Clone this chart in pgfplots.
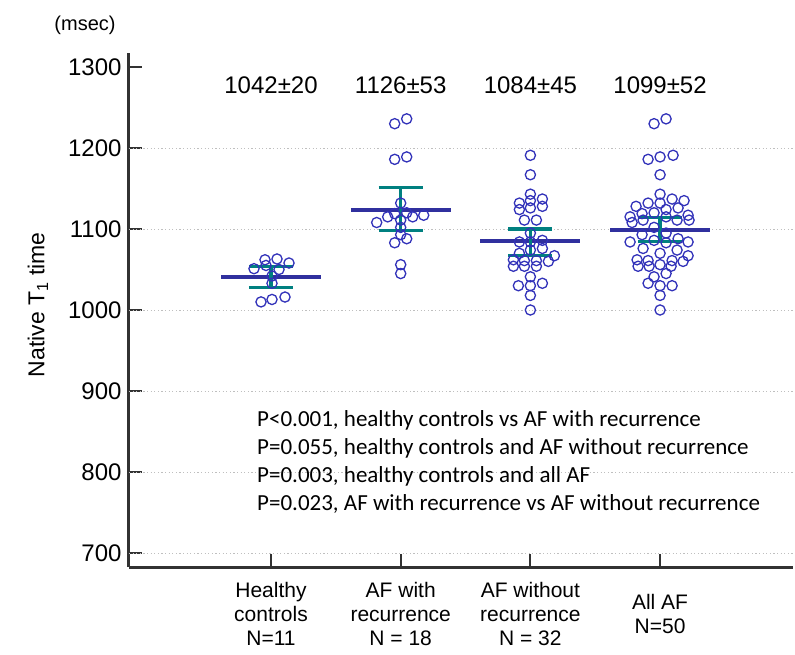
\documentclass[border=0pt]{standalone}
\usepackage{pgfplots}
\pgfplotsset{compat=1.18}
\usepackage{pgfplotstable}
\usepackage{fontspec}
\setmainfont{Liberation Sans}
\newfontfamily\carlito{Carlito}
\definecolor{dotblue}{RGB}{50,50,185}
\definecolor{meanblue}{RGB}{48,48,158}
\definecolor{barteal}{RGB}{0,128,128}
\definecolor{axisgray}{RGB}{50,50,50}

\pgfplotstableread{
g dx y
1 6 1063
1 -6 1062
1 18 1058
1 -17 1051
1 -5 1055
1 8 1050
1 1 1042
1 1 1033
1 14 1016
1 1 1013
1 -10 1010
}\healthy

\pgfplotstableread{
g dx y
2 6 1236
2 -6 1230
2 6 1189
2 -6 1186
2 0 1132
2 6 1120
2 -6 1119
2 23 1117
2 -13 1115
2 12 1115
2 0 1111
2 -24 1108
2 0 1102
2 0 1093
2 6 1088
2 -6 1083
2 0 1056
2 0 1045
}\afwith

\pgfplotstableread{
g dx y
3 0 1191
3 0 1167
3 0 1143
3 12 1137
3 0 1135
3 -11 1132
3 12 1128
3 0 1126
3 -11 1124
3 -6 1111
3 6 1111
3 0 1095
3 12 1086
3 -11 1084
3 0 1084
3 12 1076
3 0 1074
3 -11 1070
3 24 1067
3 -17 1062
3 -6 1061
3 6 1061
3 18 1060
3 -17 1054
3 -6 1054
3 6 1054
3 0 1041
3 12 1033
3 -12 1030
3 0 1030
3 0 1018
3 0 1000
}\afwithout

\pgfplotstableread{
g dx y
4 6 1236
4 -6 1230
4 13 1191
4 0 1189
4 -12 1186
4 0 1167
4 0 1143
4 12 1137
4 24 1135
4 0 1132
4 -12 1132
4 -24 1128
4 18 1126
4 6 1124
4 -6 1120
4 -18 1119
4 28 1117
4 -30 1115
4 6 1115
4 17 1111
4 -17 1111
4 29 1111
4 -28 1108
4 -6 1102
4 6 1095
4 -18 1093
4 18 1088
4 -6 1086
4 28 1084
4 -30 1084
4 6 1083
4 -17 1076
4 17 1074
4 0 1070
4 28 1067
4 -23 1062
4 -12 1061
4 12 1061
4 23 1060
4 0 1056
4 -11 1054
4 11 1054
4 -22 1054
4 6 1045
4 -6 1041
4 -12 1033
4 12 1030
4 0 1030
4 0 1018
4 0 1000
}\allaf

\begin{document}
\begin{tikzpicture}
\begin{axis}[
  at={(129pt,87pt)}, anchor=south west,
  scale only axis, width=664pt, height=514pt,
  xmin=-0.095, xmax=5.025, ymin=682.7, ymax=1317.3,
  axis x line=bottom, axis y line=left,
  axis line style={-, line width=3pt, color=axisgray},
  tick align=inside, major tick length=13pt,
  tick style={line width=2.2pt, color=axisgray},
  xtick={1,2,3,4},
  xticklabels={{Healthy\\controls\\N=11},{AF with\\recurrence\\N = 18},{AF without\\recurrence\\N = 32},{All AF\\N=50}},
  xticklabel style={align=center, anchor=center, yshift=-47pt, font=\fontsize{21}{24}\selectfont},
  ytick={700,800,900,1000,1100,1200,1300},
  yticklabel style={font=\fontsize{24}{28}\selectfont, xshift=-4pt},
  /pgf/number format/assume math mode=true,
  /pgf/number format/1000 sep={},
  extra y ticks={700,800,900,1000,1100,1200},
  extra y tick labels={},
  extra y tick style={grid=major, major tick length=0pt},
  major grid style={color=gray!50, line width=0.9pt, dash pattern=on 1.2pt off 2.4pt},
  clip=false,
]
\addplot[only marks, mark=o, mark size=5.1pt, mark options={line width=1.3pt, draw=dotblue}] table[x expr=\thisrow{g}+\thisrow{dx}/129.7, y=y] {\healthy};
\addplot[only marks, mark=o, mark size=5.1pt, mark options={line width=1.3pt, draw=dotblue}] table[x expr=\thisrow{g}+\thisrow{dx}/129.7, y=y] {\afwith};
\addplot[only marks, mark=o, mark size=5.1pt, mark options={line width=1.3pt, draw=dotblue}] table[x expr=\thisrow{g}+\thisrow{dx}/129.7, y=y] {\afwithout};
\addplot[only marks, mark=o, mark size=5.1pt, mark options={line width=1.3pt, draw=dotblue}] table[x expr=\thisrow{g}+\thisrow{dx}/129.7, y=y] {\allaf};

% mean lines
\addplot[meanblue, line width=4pt] coordinates {(0.615,1041) (1.385,1041)};
\addplot[meanblue, line width=4pt] coordinates {(1.615,1124) (2.385,1124)};
\addplot[meanblue, line width=4pt] coordinates {(2.615,1085) (3.385,1085)};
\addplot[meanblue, line width=4pt] coordinates {(3.615,1099) (4.385,1099)};
% 95% CI bars
\addplot[barteal, line width=3.5pt] coordinates {(1,1027.5) (1,1053.5)};
\addplot[barteal, line width=3.5pt] coordinates {(0.83,1027.5) (1.17,1027.5)};
\addplot[barteal, line width=3.5pt] coordinates {(0.83,1053.5) (1.17,1053.5)};
\addplot[barteal, line width=3.5pt] coordinates {(2,1098) (2,1151)};
\addplot[barteal, line width=3.5pt] coordinates {(1.83,1098) (2.17,1098)};
\addplot[barteal, line width=3.5pt] coordinates {(1.83,1151) (2.17,1151)};
\addplot[barteal, line width=3.5pt] coordinates {(3,1067.5) (3,1100)};
\addplot[barteal, line width=3.5pt] coordinates {(2.83,1067.5) (3.17,1067.5)};
\addplot[barteal, line width=3.5pt] coordinates {(2.83,1100) (3.17,1100)};
\addplot[barteal, line width=3.5pt] coordinates {(4,1084.5) (4,1114)};
\addplot[barteal, line width=3.5pt] coordinates {(3.83,1084.5) (4.17,1084.5)};
\addplot[barteal, line width=3.5pt] coordinates {(3.83,1114) (4.17,1114)};

\node[font=\fontsize{24}{28}\selectfont, anchor=base] at (axis cs:1,1267) {1042±20};
\node[font=\fontsize{24}{28}\selectfont, anchor=base] at (axis cs:2,1267) {1126±53};
\node[font=\fontsize{24}{28}\selectfont, anchor=base] at (axis cs:3,1267) {1084±45};
\node[font=\fontsize{24}{28}\selectfont, anchor=base] at (axis cs:4,1267) {1099±52};

\node[font=\carlito\fontsize{23}{28}\selectfont, anchor=north west, align=left, inner sep=0pt]
  at (axis cs:0.892,876) {P<0.001, healthy controls vs AF with recurrence\\
  P=0.055, healthy controls and AF without recurrence\\
  P=0.003, healthy controls and all AF\\
  P=0.023, AF with recurrence vs AF without recurrence};

\node[font=\fontsize{23}{27}\selectfont, rotate=90, anchor=center] at ([xshift=-91pt]rel axis cs:0,0.51) {Native T\textsubscript{1} time};
\node[font=\fontsize{20}{24}\selectfont, anchor=center] at ([xshift=-44pt, yshift=28pt]rel axis cs:0,1) {(msec)};
\end{axis}
\pgfresetboundingbox
\useasboundingbox (0,0) rectangle (795pt,654pt);
\end{tikzpicture}
\end{document}
